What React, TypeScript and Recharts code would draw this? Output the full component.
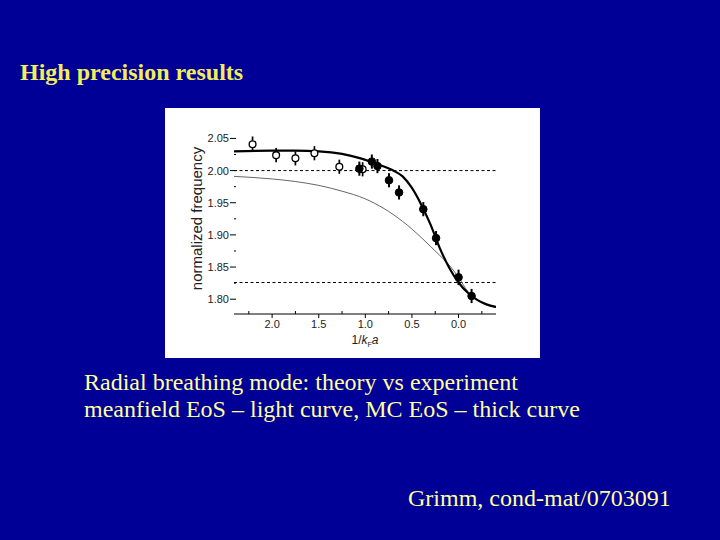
import { ComposedChart, Line, Scatter, ErrorBar, XAxis, YAxis, ReferenceLine } from 'recharts';

// x = 1/kFa (reversed axis), f = normalized frequency
const X_DOMAIN = [-0.402, 2.409];
const Y_DOMAIN = [1.777, 2.074];
const X_TICKS = [2.25, 2.0, 1.75, 1.5, 1.25, 1.0, 0.75, 0.5, 0.25, 0.0, -0.25];
const Y_TICKS = [1.8, 1.825, 1.85, 1.875, 1.9, 1.925, 1.95, 1.975, 2.0, 2.025, 2.05];

// MC equation of state (thick curve)
const thickX = [2.409, 2.0, 1.75, 1.5, 1.25, 1.05, 0.85, 0.7, 0.6, 0.5, 0.4, 0.3, 0.2, 0.1, 0.0, -0.1, -0.2, -0.3, -0.402];
const thickY = [2.03, 2.031, 2.031, 2.03, 2.026, 2.019, 2.009, 2.0, 1.991, 1.973, 1.947, 1.916, 1.879, 1.849, 1.826, 1.81, 1.799, 1.792, 1.788];

// meanfield equation of state (light curve)
const thinX = [2.409, 2.0, 1.75, 1.5, 1.25, 1.0, 0.8, 0.6, 0.4, 0.3, 0.2, 0.1, 0.0, -0.1, -0.2, -0.3, -0.402];
const thinY = [1.991, 1.987, 1.983, 1.977, 1.968, 1.956, 1.941, 1.921, 1.896, 1.882, 1.868, 1.853, 1.834, 1.812, 1.799, 1.791, 1.787];

// measurements, open circles
const openX = [2.21, 1.957, 1.75, 1.546, 1.279, 1.029];
const openY = [2.041, 2.024, 2.019, 2.027, 2.006, 2.002];
const openErr = [0.012, 0.011, 0.011, 0.011, 0.011, 0.011];

// measurements, filled circles
const fullX = [1.064, 0.93, 0.87, 0.746, 0.638, 0.378, 0.241, 0.0, -0.14];
const fullY = [2.003, 2.014, 2.007, 1.985, 1.966, 1.94, 1.895, 1.834, 1.805];
const fullErr = [0.011, 0.011, 0.011, 0.011, 0.011, 0.011, 0.011, 0.012, 0.011];

const UNITARITY = 1.826;
const BEC_LIMIT = 2.0;

const thickData = thickX.map((v, i) => ({ v, f: thickY[i] }));
const thinData = thinX.map((v, i) => ({ v, f: thinY[i] }));
const openData = openX.map((v, i) => ({ v, f: openY[i], e: openErr[i] }));
const fullData = fullX.map((v, i) => ({ v, f: fullY[i], e: fullErr[i] }));

const AXIS_FONT = "'Liberation Sans', Arial, sans-serif";
const SERIF = "'Liberation Serif', 'Times New Roman', serif";

const isMajor = (v: number, step: number) => Math.abs(v / step - Math.round(v / step)) < 1e-6;

const BottomTick = (props: any) => {
  const { x, y, payload } = props;
  const major = isMajor(payload.value, 0.5);
  return (
    <g>
      <line x1={x} x2={x} y1={y} y2={major ? y + 4 : y - 3} stroke="#000" strokeWidth={1} />
      {major && (
        <text x={x} y={y + 14} textAnchor="middle" fontSize={11} fill="#222" fontFamily={AXIS_FONT}>
          {Math.abs(payload.value).toFixed(1)}
        </text>
      )}
    </g>
  );
};

const LeftTick = (props: any) => {
  const { x, y, payload } = props;
  const major = isMajor(payload.value, 0.05);
  return (
    <g>
      <line x1={major ? x - 4 : x} x2={x + 2} y1={y} y2={y} stroke="#000" strokeWidth={1} />
      {major && (
        <text x={x - 5} y={y + 4} textAnchor="end" fontSize={11} fill="#222" fontFamily={AXIS_FONT}>
          {payload.value.toFixed(2)}
        </text>
      )}
    </g>
  );
};

const RightTick = (props: any) => {
  const { x, y } = props;
  return <line x1={x} x2={x - 4} y1={y} y2={y} stroke="#000" strokeWidth={1} />;
};

const TopTick = (props: any) => {
  const { x, y } = props;
  return <line x1={x} x2={x} y1={y} y2={y + 4} stroke="#000" strokeWidth={1} />;
};

const XLabel = (props: any) => {
  const vb = props.viewBox || { x: 69, y: 206, width: 262, height: 44 };
  const cx = vb.x + vb.width / 2;
  return (
    <text x={cx} y={vb.y + 30} textAnchor="middle" fontSize={12} fill="#222" fontFamily={AXIS_FONT}>
      1/<tspan fontStyle="italic">k</tspan>
      <tspan fontSize={7} dy={3}>F</tspan>
      <tspan fontStyle="italic" dy={-3}>a</tspan>
    </text>
  );
};

const OpenDot = (p: any) => <circle cx={p.cx} cy={p.cy} r={3.4} fill="#fff" stroke="#000" strokeWidth={1.3} />;
const FullDot = (p: any) => <circle cx={p.cx} cy={p.cy} r={3.8} fill="#000" stroke="#000" />;

export default function App() {
  return (
    <div
      style={{
        position: 'absolute',
        left: 0,
        top: 0,
        width: 720,
        height: 540,
        background: '#000096',
        overflow: 'hidden',
        fontFamily: SERIF,
      }}
    >
      <div style={{ position: 'absolute', left: 20, top: 58, fontSize: 24, lineHeight: '28px', fontWeight: 'bold', color: '#f2ee5a' }}>
        High precision results
      </div>

      <div style={{ position: 'absolute', left: 165, top: 108, width: 375, height: 250, background: '#fff' }}>
        <ComposedChart width={375} height={250} margin={{ top: 15, right: 44, bottom: 0, left: 0 }}>
          <XAxis
            dataKey="v"
            type="number"
            domain={X_DOMAIN}
            reversed
            allowDataOverflow
            ticks={X_TICKS}
            interval={0}
            height={44}
            tickLine={false}
            tickSize={0}
            tickMargin={0}
            tick={<BottomTick />}
            stroke="#000"
            label={(p: any) => <XLabel {...p} />}
          />
          <XAxis
            xAxisId="top"
            orientation="top"
            type="number"
            domain={X_DOMAIN}
            reversed
            allowDataOverflow
            ticks={X_TICKS}
            interval={0}
            mirror
            height={0}
            tickLine={false}
            tickSize={0}
            tickMargin={0}
            tick={<TopTick />}
            stroke="#000"
          />
          <YAxis
            dataKey="f"
            type="number"
            domain={Y_DOMAIN}
            allowDataOverflow
            ticks={Y_TICKS}
            interval={0}
            width={69}
            axisLine={false}
            tickLine={false}
            tickSize={0}
            tickMargin={0}
            tick={<LeftTick />}
            label={{ value: 'normalized frequency', angle: -90, position: 'center', dx: -3, fontSize: 15, fill: '#222', fontFamily: AXIS_FONT }}
          />
          <YAxis
            yAxisId="right"
            orientation="right"
            type="number"
            domain={Y_DOMAIN}
            allowDataOverflow
            ticks={Y_TICKS}
            interval={0}
            mirror
            width={0}
            tickLine={false}
            tickSize={0}
            tickMargin={0}
            tick={<RightTick />}
            stroke="#000"
          />
          <ReferenceLine y={BEC_LIMIT} stroke="#000" strokeDasharray="3 2.5" strokeWidth={1} />
          <ReferenceLine y={UNITARITY} stroke="#000" strokeDasharray="3 2.5" strokeWidth={1} />
          <Line data={thinData} dataKey="f" type="monotone" stroke="#555" strokeWidth={0.9} dot={false} isAnimationActive={false} />
          <Line data={thickData} dataKey="f" type="monotone" stroke="#000" strokeWidth={2.2} dot={false} isAnimationActive={false} />
          <Scatter data={openData} dataKey="f" shape={OpenDot} isAnimationActive={false}>
            <ErrorBar dataKey="e" direction="y" width={0} stroke="#000" strokeWidth={1.7} />
          </Scatter>
          <Scatter data={fullData} dataKey="f" shape={FullDot} isAnimationActive={false}>
            <ErrorBar dataKey="e" direction="y" width={0} stroke="#000" strokeWidth={2} />
          </Scatter>
        </ComposedChart>
      </div>

      <div style={{ position: 'absolute', left: 84, top: 369, fontSize: 24, lineHeight: '27px', color: '#ffff9c' }}>
        Radial breathing mode: theory vs experiment
        <br />
        meanfield EoS – light curve, MC EoS – thick curve
      </div>

      <div style={{ position: 'absolute', left: 408, top: 484, fontSize: 24, lineHeight: '28px', color: '#ffff9c' }}>
        Grimm, cond-mat/0703091
      </div>
    </div>
  );
}
